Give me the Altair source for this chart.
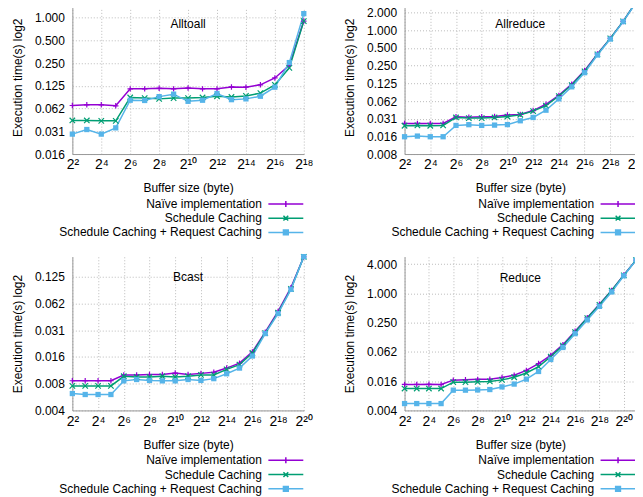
import altair as alt
import pandas as pd

FONT = "Liberation Sans"

series_names = ["Naïve implementation", "Schedule Caching", "Schedule Caching + Request Caching"]
series_colors = ["#9400d3", "#009e73", "#56b4e9"]

# ---- Alltoall (2^2 .. 2^18)
alltoall_exp = list(range(2, 19))
alltoall_naive = [0.0686, 0.070, 0.070, 0.068, 0.114, 0.114, 0.116, 0.114, 0.117, 0.114, 0.114, 0.121, 0.120, 0.129, 0.159, 0.234, 0.90]
alltoall_sched = [0.0435, 0.0435, 0.043, 0.043, 0.0876, 0.086, 0.084, 0.086, 0.086, 0.0876, 0.091, 0.089, 0.092, 0.100, 0.129, 0.216, 0.90]
alltoall_both = [0.0287, 0.033, 0.0287, 0.0347, 0.0806, 0.080, 0.090, 0.097, 0.078, 0.0806, 0.099, 0.082, 0.084, 0.091, 0.120, 0.254, 1.13]

# ---- Allreduce (2^2 .. 2^20)
allreduce_exp = list(range(2, 21))
allreduce_naive = [0.026, 0.026, 0.026, 0.026, 0.0336, 0.033, 0.0336, 0.034, 0.036, 0.037, 0.043, 0.055, 0.078, 0.121, 0.206, 0.397, 0.73, 1.42, 3.03]
allreduce_sched = [0.0237, 0.024, 0.0237, 0.024, 0.0328, 0.032, 0.032, 0.0328, 0.034, 0.0365, 0.042, 0.052, 0.076, 0.117, 0.200, 0.39, 0.73, 1.42, 3.03]
allreduce_both = [0.0154, 0.0158, 0.0154, 0.0154, 0.024, 0.0247, 0.024, 0.0243, 0.0248, 0.0288, 0.0328, 0.0436, 0.068, 0.109, 0.190, 0.38, 0.71, 1.41, 2.96]

# ---- Bcast (2^2 .. 2^20)
bcast_exp = list(range(2, 21))
bcast_naive = [0.00843, 0.00843, 0.00843, 0.00843, 0.00978, 0.00978, 0.0099, 0.0099, 0.0103, 0.0099, 0.0102, 0.0105, 0.0117, 0.0133, 0.0178, 0.0296, 0.0508, 0.094, 0.209]
bcast_sched = [0.00737, 0.00737, 0.00737, 0.00737, 0.00946, 0.0093, 0.0093, 0.00946, 0.0093, 0.00946, 0.0098, 0.0098, 0.0113, 0.0128, 0.0173, 0.029, 0.0491, 0.091, 0.209]
bcast_both = [0.00605, 0.0059, 0.0059, 0.0059, 0.0084, 0.0087, 0.0085, 0.0084, 0.0084, 0.0087, 0.0085, 0.0089, 0.0101, 0.0117, 0.0160, 0.0286, 0.048, 0.090, 0.21]

# ---- Reduce (2^2 .. 2^21)
reduce_exp = list(range(2, 22))
reduce_naive = [0.0134, 0.0134, 0.0135, 0.0133, 0.0164, 0.0167, 0.017, 0.0171, 0.0186, 0.0207, 0.026, 0.036, 0.053, 0.088, 0.166, 0.316, 0.594, 1.15, 2.38, 4.83]
reduce_sched = [0.011, 0.011, 0.011, 0.011, 0.0149, 0.0149, 0.0151, 0.0154, 0.0166, 0.0188, 0.023, 0.031, 0.050, 0.084, 0.160, 0.31, 0.58, 1.14, 2.35, 4.83]
reduce_both = [0.0054, 0.0054, 0.0054, 0.0054, 0.0102, 0.0102, 0.0103, 0.0105, 0.0119, 0.0136, 0.0172, 0.0247, 0.0436, 0.077, 0.148, 0.284, 0.54, 1.07, 2.30, 4.80]

# y tick values (powers of two) per panel
alltoall_yticks = [2 ** k for k in range(-6, 1)]
allreduce_yticks = [2 ** k for k in range(-7, 2)]
bcast_yticks = [2 ** k for k in range(-8, -2)]
reduce_yticks = [2 ** k for k in range(-8, 3, 2)]

# point markers: gnuplot-like "+", "x" and filled square
marker_shapes = ["M-1,0H1M0,-1V1", "M-1,-1L1,1M-1,1L1,-1", "square"]
marker_filled = [False, False, True]
# legend samples: a short line with the marker in its middle
legend_shapes = ["M-4.375,0H4.375M0,-0.75V0.75",
                 "M-4.375,0H4.375M-0.6,-0.6L0.6,0.6M-0.6,0.6L0.6,-0.6",
                 "M-4.375,0H4.375M-0.6,-0.6H0.6V0.6H-0.6Z"]

SUP = "['⁰','¹','²','³','⁴','⁵','⁶','⁷','⁸','⁹']"
x_label_expr = ("'2' + (datum.value < 10 ? " + SUP + "[datum.value] : "
                + SUP + "[floor(datum.value / 10)] + " + SUP + "[datum.value % 10])")
y_label_expr = "datum.value == 0.0625 ? '0.062' : format(datum.value, '.3f')"

legend_shape_expr = ("datum.value === '%s' ? '%s' : datum.value === '%s' ? '%s' : '%s'"
                     % (series_names[0], legend_shapes[0], series_names[1], legend_shapes[1], legend_shapes[2]))
legend_fill_expr = "datum.value === '%s' ? '%s' : 'transparent'" % (series_names[2], series_colors[2])


def panel(title, exps, naive, sched, both, ydom, yticks, xmax, xticks, width, height, legx, legy, toff):
    rows = []
    for name, vals in zip(series_names, [naive, sched, both]):
        for e, v in zip(exps, vals):
            rows.append({"exp": e, "time": v, "series": name})
    df = pd.DataFrame(rows)

    x = alt.X("exp:Q",
              scale=alt.Scale(domain=[2, xmax], nice=False, zero=False),
              axis=alt.Axis(values=xticks, labelExpr=x_label_expr, title="Buffer size (byte)",
                            labelFontSize=14, labelPadding=4, titlePadding=11, labelFlush=False,
                            labelOverlap=False))
    y = alt.Y("time:Q",
              scale=alt.Scale(type="log", base=2, domain=ydom, nice=False),
              axis=alt.Axis(values=yticks, labelExpr=y_label_expr, title="Execution time(s) log2",
                            labelPadding=8, titlePadding=10, labelOverlap=False))
    color_scale = alt.Scale(domain=series_names, range=series_colors)

    line = alt.Chart(df).mark_line(strokeWidth=1.5).encode(
        x=x, y=y,
        stroke=alt.Stroke("series:N", scale=color_scale, sort=series_names,
                          legend=alt.Legend(title=None, orient="none", legendX=legx, legendY=legy,
                                            symbolSize=64, symbolStrokeWidth=1.5,
                                            symbolType=alt.ExprRef(expr=legend_shape_expr),
                                            symbolFillColor=alt.ExprRef(expr=legend_fill_expr),
                                            labelAlign="right", labelOffset=alt.ExprRef(expr="-30"),
                                            labelLimit=400,
                                            labelFontSize=12, labelFont=FONT, labelColor="black",
                                            rowPadding=2.3, padding=0)),
        order="exp:Q",
    )
    layers = [line]
    for name, col, shp, fil in zip(series_names, series_colors, marker_shapes, marker_filled):
        pts = alt.Chart(df).transform_filter(alt.datum.series == name).mark_point(
            shape=shp, filled=fil, color=col, size=28 if fil else 30, strokeWidth=1.2, opacity=1
        ).encode(x=x, y=y)
        layers.append(pts)
    return alt.layer(*layers).properties(
        width=width, height=height,
        title=alt.TitleParams(title, offset=toff, fontSize=12, fontWeight="normal", font=FONT,
                              anchor="middle", color="black"),
    )


p1 = panel("Alltoall", alltoall_exp, alltoall_naive, alltoall_sched, alltoall_both,
           [2 ** -6, 1.692], alltoall_yticks, 18, list(range(2, 19, 2)), 232, 154, 208, 198, -31)
p2 = panel("Allreduce", allreduce_exp, allreduce_naive, allreduce_sched, allreduce_both,
           [2 ** -7, 3.236], allreduce_yticks, 20, list(range(2, 21, 2)), 232, 154, 208, 198, -34)
p3 = panel("Bcast", bcast_exp, bcast_naive, bcast_sched, bcast_both,
           [2 ** -8, 0.2091], bcast_yticks, 20, list(range(2, 21, 2)), 232, 154, 208, 198, -32)
p4 = panel("Reduce", reduce_exp, reduce_naive, reduce_sched, reduce_both,
           [2 ** -8, 5.65], reduce_yticks, 21, list(range(2, 21, 2)), 232, 154, 208, 198, -30)

RES = dict(stroke="independent")
row1 = alt.hconcat(p1, p2, spacing=101, bounds="flush").resolve_scale(**RES).resolve_legend(stroke="independent")
row2 = alt.hconcat(p3, p4, spacing=101, bounds="flush").resolve_scale(**RES).resolve_legend(stroke="independent")

chart = alt.vconcat(row1, row2, spacing=257, bounds="flush").resolve_scale(**RES).resolve_legend(
    stroke="independent").properties(
    padding={"left": 2.5, "top": -12.2, "right": -10, "bottom": 0},
    background="white",
).configure_view(stroke=None).configure_axis(
    labelFont=FONT, titleFont=FONT, labelColor="black", titleColor="black",
    labelFontSize=12, titleFontSize=12, titleFontWeight="normal",
    domainColor="#999999", domainWidth=1, ticks=False,
    gridColor="#bbbbbb", gridDash=[1, 2], gridWidth=1,
)

chart.save("out.html", embed_options={"renderer": "svg", "actions": False})
